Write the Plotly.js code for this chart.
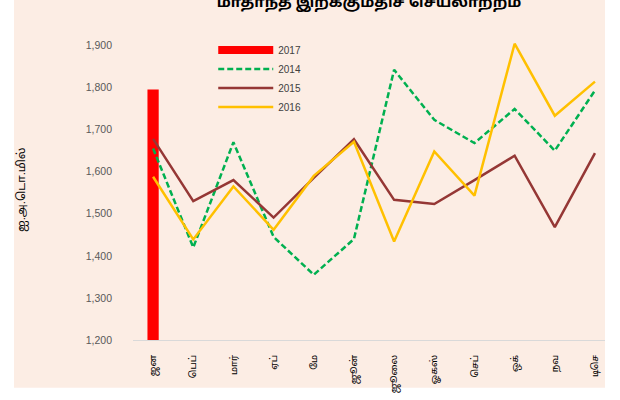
<!DOCTYPE html>
<html>
<head>
<meta charset="utf-8">
<script src="https://cdn.plot.ly/plotly-3.0.1.min.js"></script>
<style>
  html, body { margin: 0; padding: 0; background: #ffffff; }
  #chart { position: absolute; left: 14px; top: 0px; width: 591px; height: 400px; }
</style>
</head>
<body>
<div id="chart"></div>
<script>
const months = ["ஜன", "பெப்", "மார்", "ஏப்", "மே", "ஜூன்", "ஜூலை", "ஓகஸ்", "செப்", "ஒக்", "நவ", "டிசெ"];
const values2017 = [1795];
const values2014 = [1655, 1420, 1670, 1445, 1355, 1440, 1842, 1723, 1668, 1749, 1650, 1793];
const values2015 = [1678, 1530, 1580, 1491, 1585, 1677, 1533, 1523, 1580, 1638, 1468, 1644];
const values2016 = [1588, 1439, 1565, 1462, 1590, 1671, 1434, 1648, 1543, 1904, 1733, 1814];
const yTicks = [1200, 1300, 1400, 1500, 1600, 1700, 1800, 1900];
const titleText = "மாதாந்த இறக்குமதிச் செயலாற்றம்";
const yTitle = "ஐ.அ.டொ.மில்";

const FONT = "'Liberation Sans', 'Noto Sans Tamil', 'Lohit Tamil', 'DejaVu Sans', sans-serif";
const BG = "#FCEDE4";

const traces = [
  {
    type: "bar", name: "2017", x: months.slice(0, values2017.length), y: values2017,
    marker: { color: "#FF0000" }, width: 0.28, showlegend: false, hoverinfo: "skip"
  },
  {
    type: "scatter", mode: "lines", name: "2017", x: [null], y: [null],
    line: { color: "#FF0000", width: 8 }, showlegend: true
  },
  {
    type: "scatter", mode: "lines", name: "2014", x: months, y: values2014,
    line: { color: "#00B050", width: 2.5, dash: "6px,3px" }
  },
  {
    type: "scatter", mode: "lines", name: "2015", x: months, y: values2015,
    line: { color: "#953735", width: 2.5 }
  },
  {
    type: "scatter", mode: "lines", name: "2016", x: months, y: values2016,
    line: { color: "#FFC000", width: 2.5 }
  }
];

const layout = {
  width: 591, height: 400,
  margin: { l: 119, r: 0, t: 37, b: 60 },
  paper_bgcolor: BG, plot_bgcolor: BG,
  font: { family: FONT, size: 10, color: "#595959" },
  title: {
    text: titleText, x: 0.5, xref: "paper", xanchor: "center",
    yref: "container", y: 0.995, yanchor: "middle",
    font: { family: FONT, size: 15, color: "#000000", weight: "bold" }
  },
  xaxis: {
    type: "category", categoryorder: "array", categoryarray: months,
    range: [-0.5, 11.25], tickangle: -90, ticks: "", showgrid: false,
    showline: true, linecolor: "#D9D9D9", linewidth: 1, zeroline: false,
    ticklabelstandoff: 10, tickfont: { size: 9.5, color: "#000000" }, fixedrange: true
  },
  yaxis: {
    range: [1200, 1920], tickvals: yTicks, tickformat: ",d", showgrid: false,
    showline: false, zeroline: false, ticks: "", ticklabelstandoff: 20,
    tickfont: { size: 10.5, color: "#595959" }, fixedrange: true
  },
  legend: {
    x: 0.17, y: 1.005, xanchor: "left", yanchor: "top", bgcolor: "rgba(0,0,0,0)",
    font: { size: 10, color: "#404040" }, traceorder: "normal", itemwidth: 55
  },
  shapes: [{
    type: "rect", xref: "paper", yref: "paper", x0: -0.3, x1: 1.05, y0: -0.158, y1: -0.25,
    fillcolor: "#FFFFFF", line: { width: 0 }, layer: "below"
  }],
  annotations: [{
    text: yTitle, xref: "paper", yref: "paper", x: -0.235, y: 0.495,
    xanchor: "center", yanchor: "middle", textangle: -90, showarrow: false,
    font: { size: 11.5, color: "#000000" }
  }],
  showlegend: true
};

Plotly.newPlot("chart", traces, layout, { displayModeBar: false, staticPlot: true });
</script>
</body>
</html>
